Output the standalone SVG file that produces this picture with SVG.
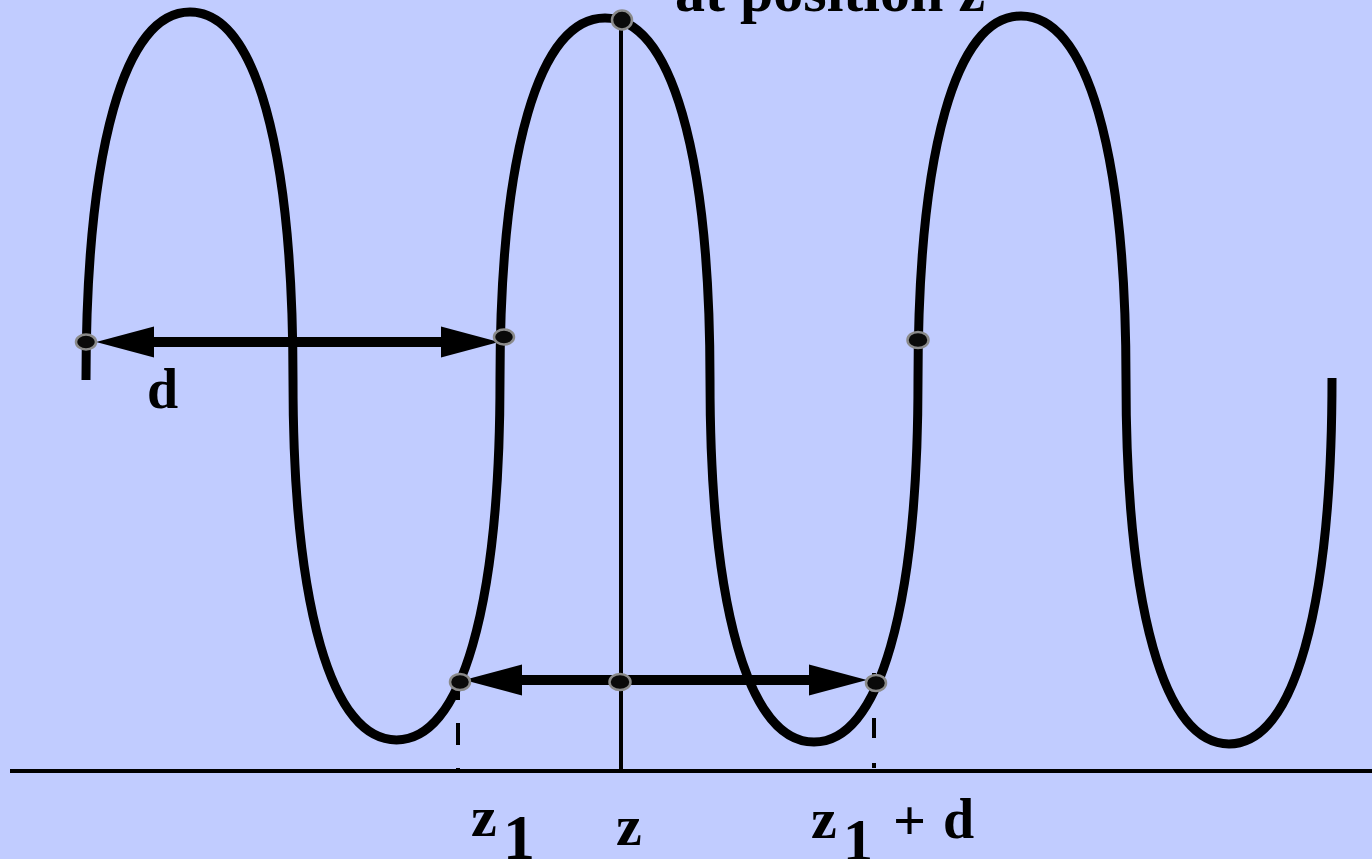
<svg xmlns="http://www.w3.org/2000/svg" width="1372" height="859" viewBox="0 0 1372 859">
<style>
.t{font-family:"Liberation Serif","Times New Roman",serif;font-weight:bold;fill:#000}
.dot{fill:#0a0a0a;stroke:#8a8a8a;stroke-width:2.5}
.dim{stroke:#000;stroke-width:10;fill:none}
</style>
<defs>
<marker id="ah" markerUnits="userSpaceOnUse" markerWidth="60" markerHeight="32" refX="1" refY="15" orient="auto-start-reverse" viewBox="0 0 58 30">
<path d="M0,0 L56,15 L0,30 Z" fill="#000"/>
</marker>
</defs>
<rect x="0" y="0" width="1372" height="859" fill="#c1ccff"/>
<g id="helix">
<path d="M86,380 C86,148 124.5,12 190,12 C255.5,12 293,148 293,380 C293,607 331.5,740 396.5,740 C461.5,740 500,607 500,380 C500,152 539,18 605,18 C671,18 710,152 710,380 C710,608 748.5,742 814,742 C879.5,742 918,608 918,380 C918,151 955.5,16 1021,16 C1087,16 1126,151 1126,380 C1126,609 1164,744 1229,744 C1294,744 1332,609 1332,378" fill="none" stroke="#000" stroke-width="9"/>
</g>
<g id="axis">
<line x1="10" y1="771" x2="1372" y2="771" stroke="#000" stroke-width="4"/>
<line x1="621" y1="20" x2="621" y2="771" stroke="#000" stroke-width="4"/>
<line x1="458" y1="678" x2="458" y2="771" stroke="#000" stroke-width="4" stroke-dasharray="22 23"/>
<line x1="874" y1="673" x2="874" y2="768" stroke="#000" stroke-width="4" stroke-dasharray="20 25"/>
</g>
<g id="connectors">
<line class="dim" x1="153" y1="342" x2="442" y2="342" marker-start="url(#ah)" marker-end="url(#ah)"/>
<line class="dim" x1="521" y1="680" x2="810" y2="680" marker-start="url(#ah)" marker-end="url(#ah)"/>
</g>
<g id="dots">
<ellipse class="dot" cx="86" cy="342" rx="10" ry="7.5"/>
<ellipse class="dot" cx="504" cy="337" rx="10" ry="7.5"/>
<ellipse class="dot" cx="918" cy="340" rx="10.5" ry="8"/>
<ellipse class="dot" cx="622" cy="20" rx="10" ry="9.5"/>
<ellipse class="dot" cx="460" cy="682" rx="10" ry="8"/>
<ellipse class="dot" cx="620" cy="682" rx="10.5" ry="8"/>
<ellipse class="dot" cx="876" cy="683" rx="10" ry="8"/>
</g>
<g id="labels">
<text class="t" x="675" y="11" font-size="60">at position z</text>
<text class="t" x="147" y="408" font-size="56">d</text>
<text class="t" x="471" y="836" font-size="58">z<tspan x="503" y="859" font-size="64">1</tspan></text>
<text class="t" x="616" y="845" font-size="58">z</text>
<text class="t" x="811" y="838" font-size="58">z<tspan x="843" y="860" font-size="60">1</tspan><tspan x="893" y="840" font-size="58">+</tspan><tspan x="943" y="838" font-size="56">d</tspan></text>
</g>
</svg>
